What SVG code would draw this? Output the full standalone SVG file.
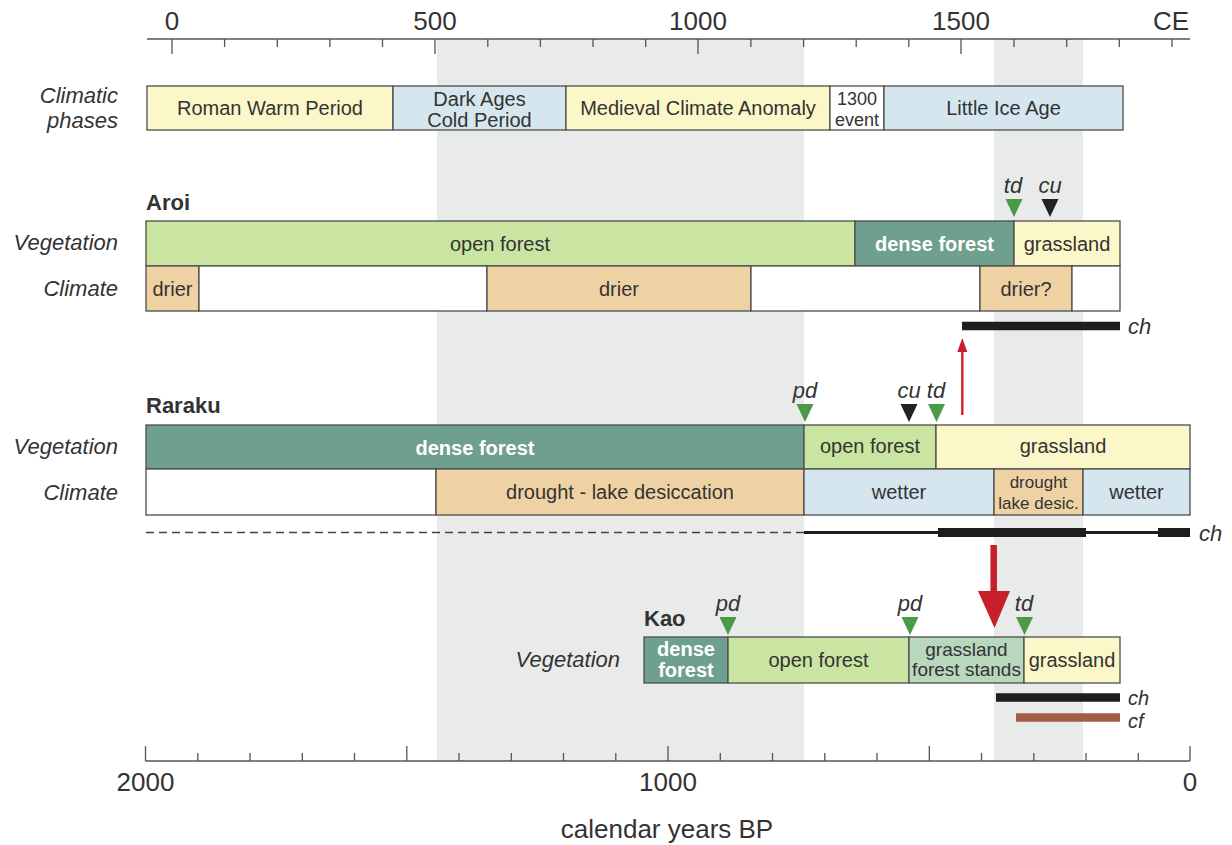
<svg xmlns="http://www.w3.org/2000/svg" xmlns:xlink="http://www.w3.org/1999/xlink" width="1232" height="845" viewBox="0 0 1232 845">
<style>
.bx{stroke:#4d4d4d;stroke-width:1.3}
.yel{fill:#fcf7c8}.blu{fill:#d5e6ee}.og{fill:#c9e5a1}.df{fill:#6f9f8e}.tan{fill:#efd2a4}.wh{fill:#fff}.gf{fill:#b8d7bd}
text{font-family:"Liberation Sans",Arial,Helvetica,sans-serif;fill:#333}
.t{font-size:20px;text-anchor:middle}
.s{font-size:18px;text-anchor:middle}
.tw{fill:#fff;font-weight:bold;font-size:20px;text-anchor:middle}
.lab{font-style:italic;font-size:22px;text-anchor:end}
.mk{font-style:italic;font-size:22px;text-anchor:middle}
.mkl{font-style:italic;font-size:22px;text-anchor:start}
.site{font-weight:bold;font-size:22px}
.ax{font-size:26px;text-anchor:middle}
.tick{stroke:#555;stroke-width:1.3}
.gr{fill:#4a9a48}.bk{fill:#222}
.band{fill:#e9eaea}
.rd{fill:#c8202b}
</style>
<defs>
<path id="tri" d="M-8.5,0 L8.5,0 L0,18 Z"/>
</defs>
<rect width="1232" height="845" fill="#fff"/>
<g id="bands">
<rect class="band" x="437" y="39" width="367" height="722"/>
<rect class="band" x="994" y="39" width="89" height="722"/>
</g>
<g id="top-axis">
<line x1="147" y1="39" x2="1190" y2="39" class="tick"/>
<path class="tick" d="M172,39v15M224.6,39v8M277.3,39v8M329.9,39v8M382.5,39v8M435,39v15M487.8,39v8M540.4,39v8M593,39v8M645.7,39v8M698,39v15M750.9,39v8M803.6,39v8M856.2,39v8M908.8,39v8M961,39v15M1014,39v8M1066.7,39v8M1119.3,39v8M1172,39v8"/>
<text class="ax" x="172" y="30">0</text>
<text class="ax" x="435" y="30">500</text>
<text class="ax" x="698" y="30">1000</text>
<text class="ax" x="961" y="30">1500</text>
<text class="ax" x="1171" y="30">CE</text>
</g>
<g id="climatic-phases">
<text class="lab" x="118" y="103">Climatic</text>
<text class="lab" x="118" y="128">phases</text>
<rect class="bx yel" x="147" y="86" width="246" height="44"/>
<text class="t" x="270" y="115">Roman Warm Period</text>
<rect class="bx blu" x="393" y="86" width="173" height="44"/>
<text class="t" x="479.5" y="106">Dark Ages</text>
<text class="t" x="479.5" y="127">Cold Period</text>
<rect class="bx yel" x="566" y="86" width="264" height="44"/>
<text class="t" x="698" y="115">Medieval Climate Anomaly</text>
<rect class="bx wh" x="830" y="86" width="54" height="44"/>
<text class="s" x="857" y="105">1300</text>
<text class="s" x="857" y="126">event</text>
<rect class="bx blu" x="884" y="86" width="239" height="44"/>
<text class="t" x="1003.5" y="115">Little Ice Age</text>
</g>
<g id="aroi">
<text class="site" x="146" y="210">Aroi</text>
<text class="lab" x="118" y="250">Vegetation</text>
<text class="lab" x="118" y="296">Climate</text>
<rect class="bx og" x="146" y="221" width="709" height="45"/>
<text class="t" x="500" y="251">open forest</text>
<rect class="bx df" x="855" y="221" width="159" height="45"/>
<text class="tw" x="934.5" y="251">dense forest</text>
<rect class="bx yel" x="1014" y="221" width="106" height="45"/>
<text class="t" x="1067" y="251">grassland</text>
<rect class="bx tan" x="146" y="266" width="53" height="45"/>
<text class="t" x="172.5" y="296">drier</text>
<rect class="bx wh" x="199" y="266" width="288" height="45"/>
<rect class="bx tan" x="487" y="266" width="264" height="45"/>
<text class="t" x="619" y="296">drier</text>
<rect class="bx wh" x="751" y="266" width="229" height="45"/>
<rect class="bx tan" x="980" y="266" width="92" height="45"/>
<text class="t" x="1026" y="296">drier?</text>
<rect class="bx wh" x="1072" y="266" width="48" height="45"/>
<use xlink:href="#tri" href="#tri" class="gr" x="1014" y="199"/>
<use xlink:href="#tri" href="#tri" class="bk" x="1050" y="199"/>
<text class="mk" x="1013" y="193">td</text>
<text class="mk" x="1050" y="193">cu</text>
<line x1="962" y1="326" x2="1120" y2="326" stroke="#1e1e1e" stroke-width="8.5"/>
<text class="mkl" x="1128" y="334">ch</text>
</g>
<g id="raraku">
<text class="site" x="146" y="413">Raraku</text>
<text class="lab" x="118" y="454">Vegetation</text>
<text class="lab" x="118" y="500">Climate</text>
<rect class="bx df" x="146" y="425" width="658" height="44"/>
<text class="tw" x="475" y="455">dense forest</text>
<rect class="bx og" x="804" y="425" width="132" height="44"/>
<text class="t" x="870" y="453">open forest</text>
<rect class="bx yel" x="936" y="425" width="254" height="44"/>
<text class="t" x="1063" y="453">grassland</text>
<rect class="bx wh" x="146" y="469" width="290" height="46"/>
<rect class="bx tan" x="436" y="469" width="368" height="46"/>
<text class="t" x="620" y="499">drought - lake desiccation</text>
<rect class="bx blu" x="804" y="469" width="190" height="46"/>
<text class="t" x="899" y="499">wetter</text>
<rect class="bx tan" x="994" y="469" width="89" height="46"/>
<text class="s" x="1038.5" y="488" style="font-size:17px">drought</text>
<text class="s" x="1038.5" y="509" style="font-size:17px">lake desic.</text>
<rect class="bx blu" x="1083" y="469" width="107" height="46"/>
<text class="t" x="1136.5" y="499">wetter</text>
<use xlink:href="#tri" href="#tri" class="gr" x="805" y="404"/>
<use xlink:href="#tri" href="#tri" class="bk" x="909" y="404"/>
<use xlink:href="#tri" href="#tri" class="gr" x="936.5" y="404"/>
<text class="mk" x="805" y="398">pd</text>
<text class="mk" x="909" y="398">cu</text>
<text class="mk" x="936" y="398">td</text>
<line x1="146" y1="532.5" x2="804" y2="532.5" stroke="#444" stroke-width="1.5" stroke-dasharray="8,5"/>
<line x1="804" y1="532.5" x2="1190" y2="532.5" stroke="#1e1e1e" stroke-width="3"/>
<line x1="938" y1="532.5" x2="1086" y2="532.5" stroke="#1e1e1e" stroke-width="9"/>
<line x1="1158" y1="532.5" x2="1190" y2="532.5" stroke="#1e1e1e" stroke-width="9"/>
<text class="mkl" x="1199" y="541">ch</text>
</g>
<g id="kao">
<text class="site" x="644" y="626">Kao</text>
<text class="lab" x="620" y="667">Vegetation</text>
<rect class="bx df" x="644" y="637" width="84" height="46"/>
<text class="tw" x="686" y="656">dense</text>
<text class="tw" x="686" y="677">forest</text>
<rect class="bx og" x="728" y="637" width="181" height="46"/>
<text class="t" x="818.5" y="667">open forest</text>
<rect class="bx gf" x="909" y="637" width="115" height="46"/>
<text class="s" x="966.5" y="656" style="font-size:19px">grassland</text>
<text class="s" x="966.5" y="676" style="font-size:19px">forest stands</text>
<rect class="bx yel" x="1024" y="637" width="96" height="46"/>
<text class="t" x="1072" y="667">grassland</text>
<use xlink:href="#tri" href="#tri" class="gr" x="728" y="617"/>
<use xlink:href="#tri" href="#tri" class="gr" x="910" y="617"/>
<use xlink:href="#tri" href="#tri" class="gr" x="1024.5" y="617"/>
<text class="mk" x="728" y="611">pd</text>
<text class="mk" x="910" y="611">pd</text>
<text class="mk" x="1024" y="611">td</text>
<line x1="996" y1="697.5" x2="1120" y2="697.5" stroke="#1e1e1e" stroke-width="8.5"/>
<line x1="1016" y1="717.5" x2="1120" y2="717.5" stroke="#a35c46" stroke-width="8.5"/>
<text class="mkl" x="1128" y="705" style="font-size:20px">ch</text>
<text class="mkl" x="1128" y="728" style="font-size:20px">cf</text>
</g>
<g id="connectors">
<line x1="962.3" y1="415" x2="962.3" y2="350" stroke="#c8202b" stroke-width="2.4"/>
<polygon class="rd" points="957.3,352 967.3,352 962.3,338"/>
<line x1="993.7" y1="545" x2="993.7" y2="594" stroke="#c8202b" stroke-width="6.5"/>
<polygon class="rd" points="978,591 1010,591 994.5,628"/>
</g>
<g id="bottom-axis">
<line x1="145.5" y1="761" x2="1190" y2="761" class="tick"/>
<path class="tick" d="M145.5,761v-15M197.8,761v-8M250,761v-8M302.3,761v-8M354.5,761v-8M406.8,761v-15M459,761v-8M511.3,761v-8M563.5,761v-8M615.8,761v-8M668,761v-15M720.3,761v-8M772.5,761v-8M824.8,761v-8M877,761v-8M929.3,761v-15M981.5,761v-8M1033.8,761v-8M1086,761v-8M1138.3,761v-8M1190,761v-15"/>
<text class="ax" x="145.5" y="791">2000</text>
<text class="ax" x="668" y="791">1000</text>
<text class="ax" x="1190" y="791">0</text>
<text class="ax" x="667" y="838">calendar years BP</text>
</g>
</svg>
